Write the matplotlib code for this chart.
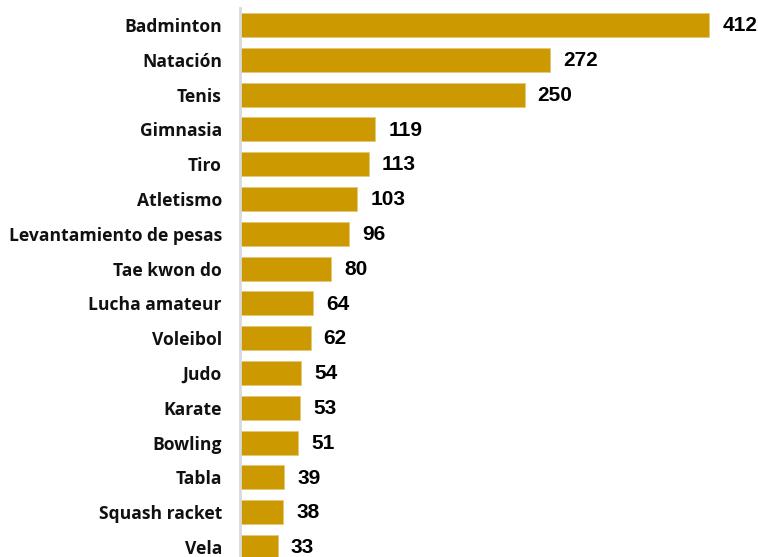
import matplotlib.pyplot as plt

sports = ["Badminton", "Natación", "Tenis", "Gimnasia", "Tiro", "Atletismo",
          "Levantamiento de pesas", "Tae kwon do", "Lucha amateur", "Voleibol",
          "Judo", "Karate", "Bowling", "Tabla", "Squash racket", "Vela"]
counts = [412, 272, 250, 119, 113, 103, 96, 80, 64, 62, 54, 53, 51, 39, 38, 33]

W, H = 758, 557
fig = plt.figure(figsize=(W / 100, H / 100), dpi=100)
ax = fig.add_axes([240 / W, 0, 1 - 240 / W, (H - 8) / H])

pos = list(range(len(sports)))
ax.barh(pos, counts, height=0.69, color="#CC9900", edgecolor="#E3C878", linewidth=0.6)
ax.set_xlim(0, 455)
ax.set_ylim(15.29, -0.49)

for y, v in zip(pos, counts):
    ax.text(v + 11.5, y + 0.02, str(v), va="center", ha="left",
            fontsize=15, fontweight="bold", family="Liberation Sans", color="#000000")

ax.set_yticks(pos)
ax.set_yticklabels(sports, fontsize=12.6, fontweight="bold", family="Open Sans", color="#111111")
ax.tick_params(axis="y", length=0, pad=13)
ax.set_xticks([])
for s in ["top", "right", "bottom"]:
    ax.spines[s].set_visible(False)
ax.spines["left"].set_color("#D9D9D9")
ax.spines["left"].set_linewidth(2)

fig.savefig("out.png", dpi=100)
